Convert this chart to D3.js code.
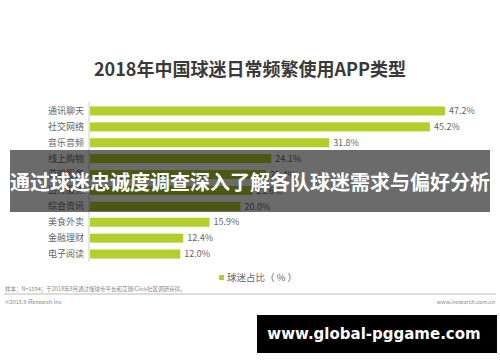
<!DOCTYPE html>
<html>
<head>
<meta charset="utf-8">
<script src="https://cdn.jsdelivr.net/npm/d3@7"></script>
<style>
  body { margin: 0; background: #fff; }
  svg { display: block; font-family: "Noto Sans CJK SC", "Noto Sans", sans-serif; }
</style>
</head>
<body>
<svg id="chart" width="500" height="362"></svg>
<script>
// values (one row is hidden behind the banner, guessed)
const categories = ['通讯聊天', '社交网络', '音乐音频', '线上购物', '游戏服务', '出行服务', '综合资讯', '美食外卖', '金融理财', '电子阅读']
const shares = [47.2, 45.2, 31.8, 24.1, 23.4, 21.6, 20.0, 15.9, 12.4, 12.0]
const legendLabel = '球迷占比（ % ）'

const rows = categories.map((c, i) => ({cat: c, v: shares[i]}))

const svg = d3.select('#chart')

svg.append('text')
    .attr('x', 250).attr('y', 76)
    .attr('text-anchor', 'middle')
    .attr('font-size', 18).attr('font-weight', 'bold')
    .attr('fill', '#3a3a3a')
    .text('2018年中国球迷日常频繁使用APP类型')

const x = d3.scaleLinear().domain([0, 50]).range([90, 466])
const y = d3.scaleBand().domain(categories).range([103, 262]).paddingInner(0.43).paddingOuter(0.215)

svg.selectAll('rect.bar')
    .data(rows)
    .join('rect')
    .attr('class', 'bar')
    .attr('x', x(0))
    .attr('y', d => y(d.cat))
    .attr('width', d => x(d.v) - x(0))
    .attr('height', y.bandwidth())
    .attr('fill', '#b3cf2c')

svg.selectAll('text.val')
    .data(rows)
    .join('text')
    .attr('class', 'val')
    .attr('x', d => x(d.v) + 4)
    .attr('y', d => y(d.cat) + y.bandwidth() / 2)
    .attr('dy', '0.35em')
    .attr('font-size', 9)
    .attr('fill', '#666')
    .text(d => d.v.toFixed(1) + '%')

// y axis: just the line and the labels
const yAxis = svg.append('g')
    .attr('transform', `translate(${x(0) - 1},0)`)
    .call(d3.axisLeft(y).tickSize(0).tickPadding(5))
yAxis.select('.domain').attr('stroke', '#ccc').attr('d', 'M0,102V262')
yAxis.selectAll('text').attr('font-size', 9).attr('fill', '#666')
    .attr('font-family', '"Noto Sans CJK SC", sans-serif')

// legend
svg.append('rect').attr('x', 219).attr('y', 275).attr('width', 5).attr('height', 5).attr('fill', '#b3cf2c')
svg.append('text').attr('x', 227).attr('y', 278).attr('dy', '0.35em')
    .attr('font-size', 9.5).attr('fill', '#666').text(legendLabel)

// footnotes
svg.append('text').attr('x', 5).attr('y', 291)
    .attr('font-size', 5.5).attr('fill', '#888')
    .text('样本：N=1594；于2018年8月通过懂球帝平台和艾瑞iClick社区调研获得。')
svg.append('line').attr('x1', 4).attr('x2', 496).attr('y1', 294).attr('y2', 294)
    .attr('stroke', '#aaa').attr('stroke-width', 0.8)
svg.append('text').attr('x', 5).attr('y', 304)
    .attr('font-size', 5.5).attr('fill', '#888').text('©2018.9 iResearch Inc')
svg.append('text').attr('x', 495).attr('y', 304).attr('text-anchor', 'end')
    .attr('font-size', 5.5).attr('fill', '#888').text('www.iresearch.com.cn')

// banner across the middle
svg.append('rect').attr('x', 10).attr('y', 150).attr('width', 480).attr('height', 62)
    .attr('fill', 'rgba(0,0,0,0.58)')
svg.append('text').attr('x', 250).attr('y', 183).attr('dy', '0.35em')
    .attr('text-anchor', 'middle')
    .attr('font-size', 20).attr('font-weight', 'bold').attr('fill', '#fff')
    .text('通过球迷忠诚度调查深入了解各队球迷需求与偏好分析')

// watermark
svg.append('rect').attr('x', 257).attr('y', 315).attr('width', 240).attr('height', 38).attr('fill', '#000')
svg.append('text').attr('x', 374).attr('y', 334).attr('dy', '0.35em')
    .attr('text-anchor', 'middle')
    .attr('font-family', '"DejaVu Sans", sans-serif')
    .attr('font-size', 15).attr('font-weight', 'bold').attr('fill', '#fff')
    .text('www.global-pggame.com')
</script>
</body>
</html>
